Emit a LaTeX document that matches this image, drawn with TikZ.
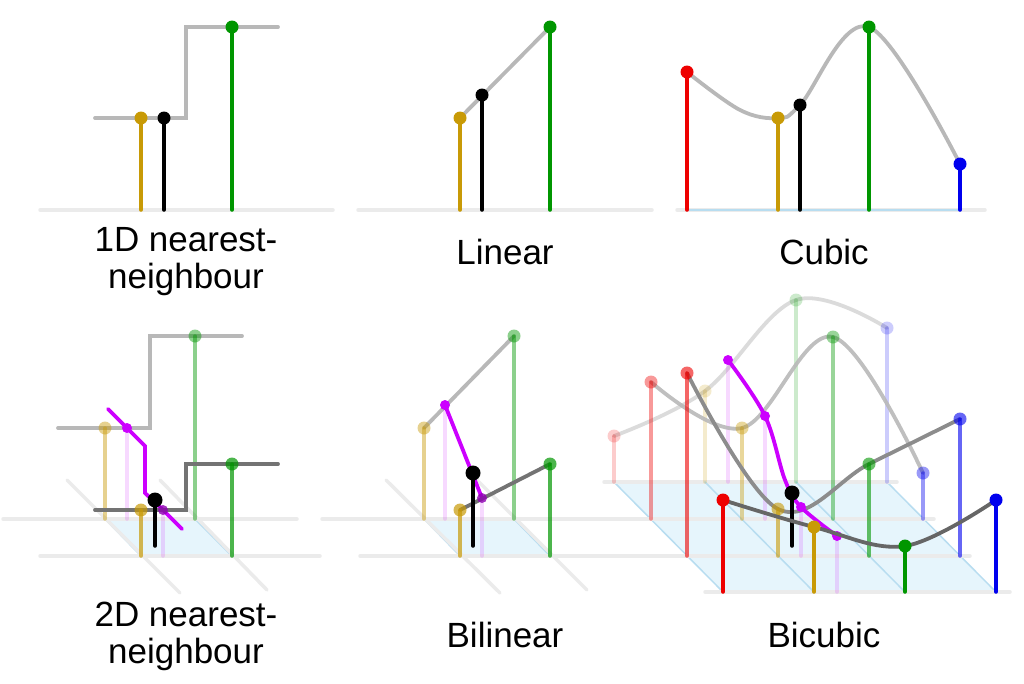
\documentclass[tikz,border=0pt]{standalone}
\usepackage{fontspec}
\setmainfont{Liberation Sans}
\begin{document}
\begin{tikzpicture}[x=1pt,y=-1pt,line cap=round,
  gnd/.style={draw=black!8,line width=3.5pt},
  stm/.style={line width=3.5pt},
  cur/.style={draw=black!28,line width=3.8pt},
  mag/.style={draw=magcol,line width=3.8pt},
  lbl/.style={font=\fontsize{35}{37}\selectfont,align=center}]
\definecolor{gold}{HTML}{C89A06}
\definecolor{grn}{HTML}{009600}
\definecolor{rd}{HTML}{EE0000}
\definecolor{bl}{HTML}{0000EE}
\definecolor{magcol}{HTML}{CC00FF}
\definecolor{pl}{HTML}{E6F5FC}
\definecolor{ple}{HTML}{B8DDF0}
\newcommand{\stemdot}[5]{\draw[stm,draw=#4,opacity=#5] (#1,#2) -- (#1,#3);\fill[#4,opacity=#5] (#1,#3) circle (6.5);}
\useasboundingbox (0,0) rectangle (1024,683);
% ---------- 1D nearest
\draw[gnd] (40,210) -- (333,210);
\draw[cur] (95,118) -- (186,118) -- (186,27) -- (278,27);
\stemdot{141}{210}{118}{gold}{1}
\stemdot{164}{210}{118}{black}{1}
\stemdot{232}{210}{27}{grn}{1}
\node[lbl] (t1) at (186,262) {1D nearest-\\neighbour};
% ---------- Linear
\draw[gnd] (358,210) -- (652,210);
\draw[cur] (460,118) -- (550,27);
\stemdot{460}{210}{118}{gold}{1}
\stemdot{482}{210}{95}{black}{1}
\stemdot{550}{210}{27}{grn}{1}
\node[lbl] (t2) at (505,252) {Linear};
% ---------- Cubic
\draw[gnd] (677,210) -- (985,210);
\draw[draw=ple,line width=2pt] (687,210) -- (960,210);
\draw[cur] plot[smooth,tension=0.6] coordinates {(687,72) (740,110) (778,118) (800,105) (869,27) (960,164)};
\stemdot{687}{210}{72}{rd}{1}
\stemdot{778}{210}{118}{gold}{1}
\stemdot{800}{210}{105}{black}{1}
\stemdot{869}{210}{27}{grn}{1}
\stemdot{960}{210}{164}{bl}{1}
\node[lbl] (t3) at (824,252) {Cubic};
% ---------- 2D nearest
\fill[pl] (105,519) -- (195,519) -- (232,556) -- (141,556) -- cycle;
\draw[draw=ple,line width=1.5pt] (105,519) -- (195,519) -- (232,556) -- (141,556) -- cycle;
\draw[gnd] (3,519) -- (297,519);
\draw[gnd] (40,556) -- (320,556);
\draw[gnd] (67,480) -- (180,593);
\draw[gnd] (160,480) -- (267,590);
\draw[cur] (58,428) -- (150,428) -- (150,336) -- (242,336);
\stemdot{105}{519}{428}{gold}{0.45}
\stemdot{195}{519}{336}{grn}{0.45}
\draw[stm,draw=magcol,opacity=0.15] (127,519) -- (127,428);
\draw[mag] (108,409) -- (127,428) -- (145,446) -- (145,493) -- (163,510) -- (182,529);
\fill[magcol] (127,428) circle (5);
\draw[draw=black!55,line width=3.8pt] (95,510) -- (186,510) -- (186,464) -- (278,464);
\draw[stm,draw=magcol,opacity=0.15] (163,556) -- (163,510);
\fill[magcol!70!black,opacity=0.8] (163,510) circle (5);
\stemdot{141}{556}{510}{gold}{0.7}
\stemdot{232}{556}{464}{grn}{0.7}
\draw[stm] (155,546) -- (155,500); \fill (155,500) circle (7.5);
\node[lbl] (t4) at (186,636) {2D nearest-\\neighbour};
% ---------- Bilinear
\fill[pl] (424,519) -- (514,519) -- (550,556) -- (460,556) -- cycle;
\draw[draw=ple,line width=1.5pt] (424,519) -- (514,519) -- (550,556) -- (460,556) -- cycle;
\draw[gnd] (322,519) -- (617,519);
\draw[gnd] (360,556) -- (620,556);
\draw[gnd] (386,480) -- (500,593);
\draw[gnd] (477,480) -- (587,590);
\draw[cur] (424,428) -- (514,336);
\stemdot{424}{519}{428}{gold}{0.45}
\stemdot{514}{519}{336}{grn}{0.45}
\draw[stm,draw=magcol,opacity=0.15] (445,519) -- (445,405);
\draw[stm,draw=magcol,opacity=0.15] (482,556) -- (482,498);
\draw[mag] (445,405) -- (482,498);
\fill[magcol] (445,405) circle (5);
\draw[draw=black!55,line width=3.8pt] (460,510) -- (550,464);
\fill[magcol!70!black,opacity=0.8] (482,498) circle (5);
\stemdot{460}{556}{510}{gold}{0.7}
\stemdot{550}{556}{464}{grn}{0.7}
\draw[stm] (473,546) -- (473,473); \fill (473,473) circle (7.5);
\node[lbl] (t5) at (505,635) {Bilinear};
% ---------- Bicubic
\fill[pl] (614,482) -- (887,482) -- (996,592) -- (723,592) -- cycle;
\draw[draw=ple,line width=1.5pt] (614,482) -- (887,482) -- (996,592) -- (723,592) -- cycle;
\foreach \y/\a/\b in {482/604/897,519/605/934,556/620/970,592/705/1010}
  \draw[gnd] (\a,\y) -- (\b,\y);
\foreach \x in {705,796}
  \draw[draw=ple,line width=1.5pt] (\x,482) -- (\x+109,592);
% row 1 (back)
\draw[cur,opacity=0.5] plot[smooth,tension=0.6] coordinates {(614,436) (705,391) (796,300) (887,328)};
\stemdot{614}{482}{436}{rd}{0.2}
\stemdot{705}{482}{391}{gold}{0.2}
\stemdot{796}{482}{300}{grn}{0.2}
\stemdot{887}{482}{328}{bl}{0.2}
\draw[stm,draw=magcol,opacity=0.15] (728,482) -- (728,360);
% row 2
\draw[cur,opacity=0.9] plot[smooth,tension=0.6] coordinates {(651,382) (742,428) (833,337) (923,473)};
\stemdot{651}{519}{382}{rd}{0.4}
\stemdot{742}{519}{428}{gold}{0.4}
\stemdot{833}{519}{337}{grn}{0.4}
\stemdot{923}{519}{473}{bl}{0.4}
\draw[stm,draw=magcol,opacity=0.15] (765,519) -- (765,416);
% row 3
\draw[draw=black!45,line width=3.8pt] plot[smooth,tension=0.6] coordinates {(687,373) (778,509) (869,464) (960,419)};
\stemdot{687}{556}{373}{rd}{0.6}
\stemdot{778}{556}{509}{gold}{0.6}
\stemdot{869}{556}{464}{grn}{0.6}
\stemdot{960}{556}{419}{bl}{0.6}
\draw[stm,draw=magcol,opacity=0.15] (801,556) -- (801,507);
\draw[mag] plot[smooth,tension=0.6] coordinates {(728,360) (765,416) (785,480) (801,507) (837,536)};
\fill[magcol] (728,360) circle (5);
\fill[magcol] (765,416) circle (5);
\fill[magcol] (801,507) circle (5);
\draw[stm] (792,546) -- (792,493); \fill (792,493) circle (7.5);
% row 4 (front)
\draw[stm,draw=magcol,opacity=0.15] (837,592) -- (837,536);
\fill[magcol] (837,536) circle (5);
\draw[draw=black!60,line width=3.8pt] plot[smooth,tension=0.6] coordinates {(723,500) (814,527) (905,546) (996,500)};
\stemdot{723}{592}{500}{rd}{1}
\stemdot{814}{592}{527}{gold}{1}
\stemdot{905}{592}{546}{grn}{1}
\stemdot{996}{592}{500}{bl}{1}
\node[lbl] (t6) at (824,635) {Bicubic};
\end{tikzpicture}
\end{document}
